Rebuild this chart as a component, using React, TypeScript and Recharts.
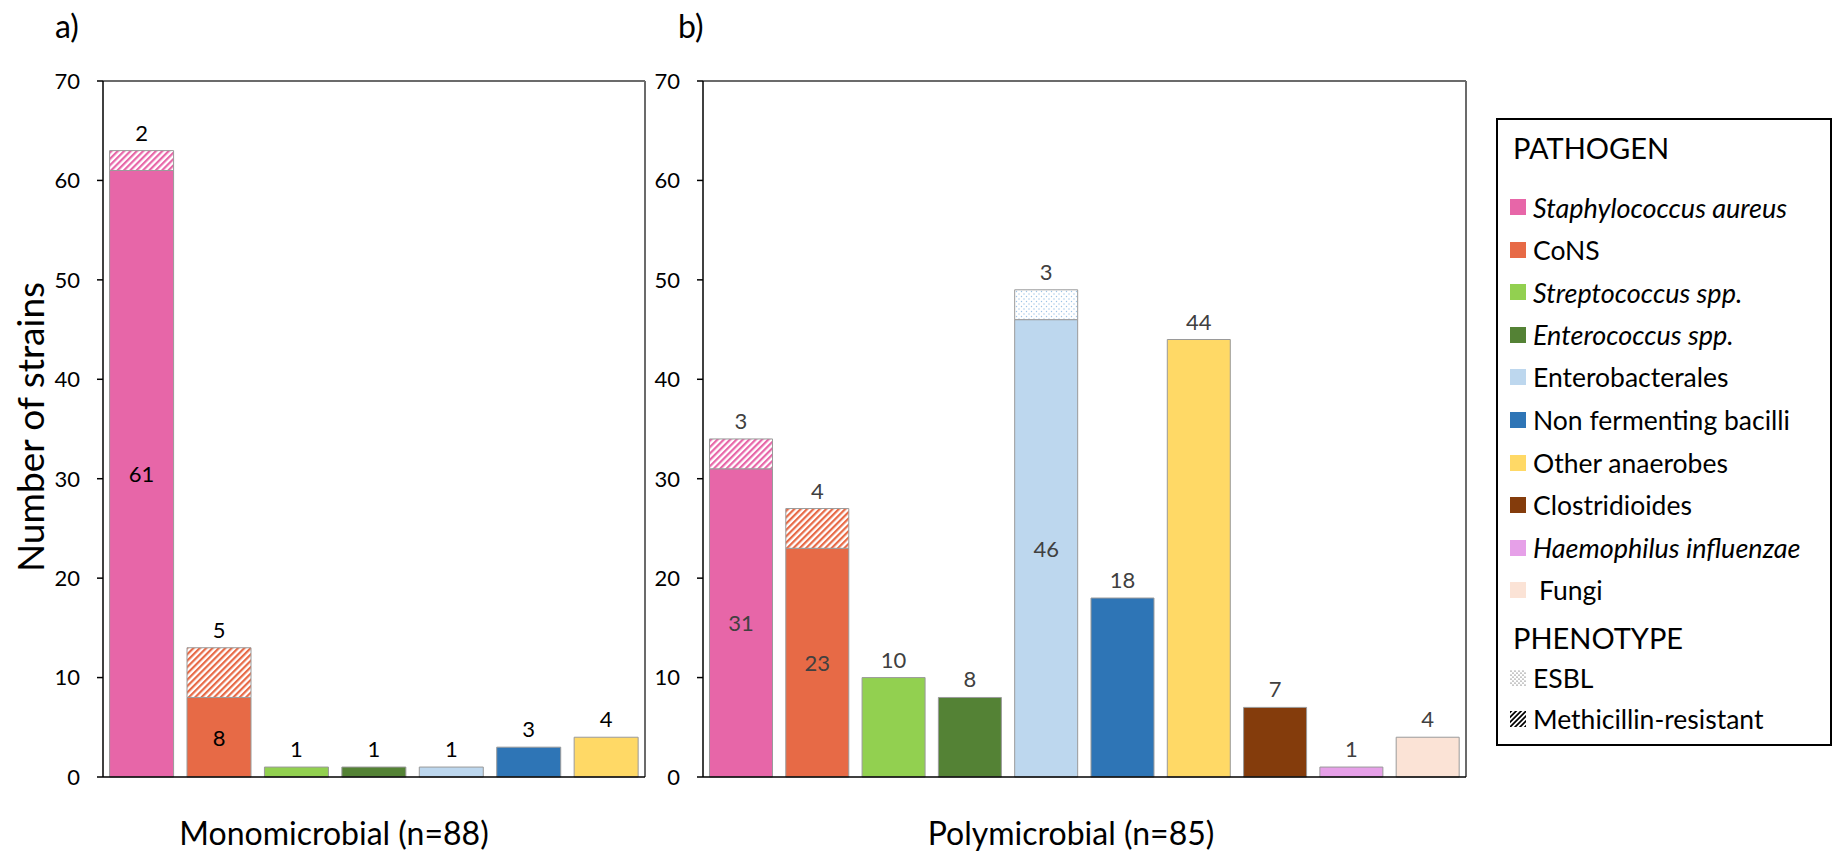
import { BarChart, Bar, XAxis, YAxis, Cell, LabelList, ReferenceLine } from 'recharts';

const pathogens = [
  'Staphylococcus aureus',
  'CoNS',
  'Streptococcus spp.',
  'Enterococcus spp.',
  'Enterobacterales',
  'Non fermenting bacilli',
  'Other anaerobes',
  'Clostridioides',
  'Haemophilus influenzae',
  'Fungi',
];
const italicNames = ['Staphylococcus aureus', 'Streptococcus spp.', 'Enterococcus spp.', 'Haemophilus influenzae'];
const colors = ['#E766A8', '#E76A46', '#92D050', '#548235', '#BDD7EE', '#2E75B6', '#FFD966', '#843C0C', '#E6A0E8', '#FBE3D6'];

// a) monomicrobial
const monoCategories = pathogens.slice(0, 7);
const monoBase = [61, 8, 1, 1, 1, 3, 4];
const monoResistant = [2, 5, 0, 0, 0, 0, 0];

// b) polymicrobial
const polyCategories = pathogens;
const polyBase = [31, 23, 10, 8, 46, 18, 44, 7, 1, 4];
const polyResistant = [3, 4, 0, 0, 3, 0, 0, 0, 0, 0];

const yTicks = [0, 10, 20, 30, 40, 50, 60, 70];
const phenotypes = ['ESBL', 'Methicillin-resistant'];

const FONT = 'Lato, "Open Sans", sans-serif';

function hatchId(prefix: string, i: number) {
  if (i === 4) return `url(#${prefix}-esbl)`;
  return `url(#${prefix}-mr${i})`;
}

function Patterns({ prefix }: { prefix: string }) {
  return (
    <defs>
      {[0, 1].map((i) => (
        <pattern key={i} id={`${prefix}-mr${i}`} patternUnits="userSpaceOnUse" width={4.5} height={4.5} patternTransform="rotate(45)">
          <rect width={4.5} height={4.5} fill="#fff" />
          <rect width={2.2} height={4.5} fill={colors[i]} />
        </pattern>
      ))}
      <pattern id={`${prefix}-esbl`} patternUnits="userSpaceOnUse" width={5} height={5}>
        <rect width={5} height={5} fill="#fff" />
        <circle cx={1.5} cy={1.5} r={0.7} fill="#9DC3E6" />
        <circle cx={4} cy={4} r={0.7} fill="#9DC3E6" />
      </pattern>
    </defs>
  );
}

function makeBaseLabel(extra: number[], color: string) {
  return (props: any) => {
    const { x, y, width, height, value, index } = props;
    if (!value) return null;
    const inside = extra[index] > 0;
    return (
      <text
        x={x + width / 2}
        y={inside ? y + height / 2 : y - 10}
        textAnchor="middle"
        dominantBaseline={inside ? 'central' : 'auto'}
        fontSize={22}
        fontFamily={FONT}
        fill={color}
      >
        {value}
      </text>
    );
  };
}

function makeTopLabel(color: string) {
  return (props: any) => {
    const { x, y, width, value } = props;
    if (!value) return null;
    return (
      <text x={x + width / 2} y={y - 10} textAnchor="middle" fontSize={22} fontFamily={FONT} fill={color}>
        {value}
      </text>
    );
  };
}

function Panel({
  prefix,
  categories,
  base,
  extra,
  width,
  leftMargin,
  labelColor,
}: {
  prefix: string;
  categories: string[];
  base: number[];
  extra: number[];
  width: number;
  leftMargin: number;
  labelColor: string;
}) {
  const data = categories.map((name, i) => ({ name, base: base[i], extra: extra[i] }));
  return (
    <BarChart
      width={width}
      height={853}
      data={data}
      margin={{ top: 81, right: 15, left: leftMargin, bottom: 0 }}
      barCategoryGap="8.5%"
    >
      <Patterns prefix={prefix} />
      <XAxis dataKey="name" tick={false} tickLine={false} height={76} axisLine={{ stroke: '#000', strokeWidth: 1.5 }} />
      <YAxis
        domain={[0, 70]}
        ticks={yTicks}
        interval={0}
        width={60}
        tickSize={6}
        tickMargin={17}
        axisLine={{ stroke: '#000', strokeWidth: 1.5 }}
        tickLine={{ stroke: '#000', strokeWidth: 1.5 }}
        tick={{ fontSize: 22, fontFamily: FONT, fill: '#000' }}
      />
      <ReferenceLine y={70} stroke="#6b6b6b" strokeWidth={2} ifOverflow="visible" />
      <ReferenceLine x={categories[categories.length - 1]} position="end" stroke="#6b6b6b" strokeWidth={2} ifOverflow="visible" />
      <Bar dataKey="base" stackId="s" stroke="#9a9a9a" strokeWidth={1} isAnimationActive={false}>
        {data.map((_, i) => (
          <Cell key={i} fill={colors[i]} />
        ))}
        <LabelList dataKey="base" content={makeBaseLabel(extra, labelColor)} />
      </Bar>
      <Bar dataKey="extra" stackId="s" stroke="#9a9a9a" strokeWidth={1} isAnimationActive={false}>
        {data.map((_, i) => (
          <Cell key={i} fill={hatchId(prefix, i)} />
        ))}
        <LabelList dataKey="extra" content={makeTopLabel(labelColor)} />
      </Bar>
    </BarChart>
  );
}

function Legend() {
  const itemStyle = (top: number): React.CSSProperties => ({
    position: 'absolute',
    left: 12,
    top: top - 118 - 2 - 17,
    height: 34,
    display: 'flex',
    alignItems: 'center',
    fontSize: 26.5,
    whiteSpace: 'nowrap',
  });
  return (
    <div
      style={{
        position: 'absolute',
        left: 1496,
        top: 118,
        width: 336,
        height: 628,
        border: '2px solid #000',
        fontFamily: FONT,
        color: '#000',
        boxSizing: 'border-box',
      }}
    >
      <div style={{ position: 'absolute', left: 15, top: 10, fontSize: 29 }}>PATHOGEN</div>
      {pathogens.map((p, i) => (
        <div key={p} style={itemStyle(207 + i * 42.6)}>
          <span style={{ width: 16, height: 16, background: colors[i], display: 'inline-block', marginRight: 7 }} />
          <span style={{ fontStyle: italicNames.includes(p) ? 'italic' : 'normal', fontSize: italicNames.includes(p) ? 27 : 26.5, marginLeft: p === 'Fungi' ? 6 : 0 }}>{p}</span>
        </div>
      ))}
      <div style={{ position: 'absolute', left: 15, top: 500, fontSize: 29 }}>PHENOTYPE</div>
      {phenotypes.map((p, i) => (
        <div key={p} style={itemStyle(678 + i * 41)}>
          <svg width={16} height={16} style={{ marginRight: 7 }}>
            <defs>
              <pattern id="lg-dots" patternUnits="userSpaceOnUse" width={4} height={4}>
                <rect width={4} height={4} fill="#fff" />
                <circle cx={1} cy={1} r={0.6} fill="#333" />
                <circle cx={3} cy={3} r={0.6} fill="#333" />
              </pattern>
              <pattern id="lg-hatch" patternUnits="userSpaceOnUse" width={3.5} height={3.5} patternTransform="rotate(45)">
                <rect width={3.5} height={3.5} fill="#fff" />
                <rect width={1.8} height={3.5} fill="#000" />
              </pattern>
            </defs>
            <rect width={16} height={16} fill={i === 0 ? 'url(#lg-dots)' : 'url(#lg-hatch)'} />
          </svg>
          <span>{p}</span>
        </div>
      ))}
    </div>
  );
}

const centered = (x: number, y: number, size: number): React.CSSProperties => ({
  position: 'absolute',
  left: x,
  top: y,
  fontSize: size,
  whiteSpace: 'nowrap',
  transform: 'translate(-50%, -50%)',
});

export default function App() {
  return (
    <div style={{ position: 'absolute', left: 0, top: 0, width: 1836, height: 853, background: '#fff', fontFamily: FONT }}>
      <div style={{ position: 'absolute', left: 55, top: 6, fontSize: 32 }}>a)</div>
      <div style={{ position: 'absolute', left: 678, top: 6, fontSize: 32 }}>b)</div>
      <div style={{ ...centered(29, 427, 37), transform: 'translate(-50%, -50%) rotate(-90deg)' }}>Number of strains</div>
      <div style={centered(334, 832, 32)}>Monomicrobial (n=88)</div>
      <div style={centered(1071, 832, 32)}>Polymicrobial (n=85)</div>
      <div style={{ position: 'absolute', left: 0, top: 0 }}>
        <Panel prefix="a" categories={monoCategories} base={monoBase} extra={monoResistant} width={660} leftMargin={43} labelColor="#000" />
      </div>
      <div style={{ position: 'absolute', left: 640, top: 0 }}>
        <Panel prefix="b" categories={polyCategories} base={polyBase} extra={polyResistant} width={841} leftMargin={3} labelColor="#404040" />
      </div>
      <Legend />
    </div>
  );
}
